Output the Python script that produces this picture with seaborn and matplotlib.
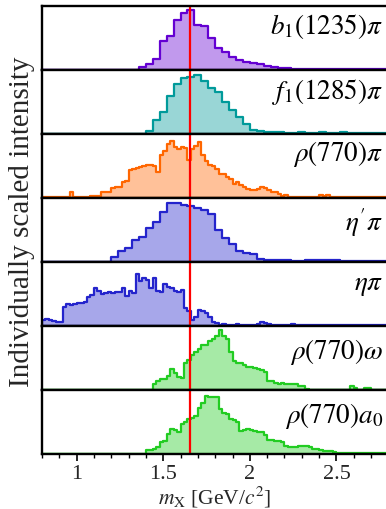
import numpy as np
import pandas as pd
import matplotlib
matplotlib.use("Agg")
import matplotlib.pyplot as plt
import seaborn as sns
from matplotlib.ticker import MultipleLocator, FixedLocator

sns.set_theme(style="ticks")
plt.rcParams["font.family"] = ["Liberation Serif", "DejaVu Serif"]
plt.rcParams["mathtext.fontset"] = "stix"

# ---------------- data ----------------
panel_labels = [r"$b_1(1235)\pi$", r"$f_1(1285)\pi$", r"$\rho(770)\pi$",
                r"$\eta'\pi$", r"$\eta\pi$", r"$\rho(770)\omega$", r"$\rho(770)a_0$"]
line_colors = ["#6400d2", "#009a9a", "#ff6600", "#2424cc", "#2424cc", "#22cc22", "#22cc22"]

x_start = 0.8
bin_widths = [0.04, 0.04, 0.02, 0.04, 0.02, 0.02, 0.02]

b1_pi = [0]*14 + [0.04, 0.1, 0.18, 0.45, 0.53, 0.78, 0.89, 0.94, 0.7, 0.68,
                  0.5, 0.34, 0.28, 0.2, 0.15, 0.13, 0.11, 0.09, 0.07, 0.04,
                  0.035, 0.025, 0.02, 0.02, 0.02, 0.015,
                  0.02, 0.015, 0.02, 0.015, 0.015, 0.02, 0.015, 0.015, 0.015, 0.015]
f1_pi = [0]*15 + [0.05, 0.22, 0.34, 0.6, 0.78, 0.88, 0.89, 0.92, 0.83, 0.72,
                  0.65, 0.5, 0.38, 0.27, 0.16, 0.06, 0.05, 0.04, 0.03, 0.03,
                  0.02, 0.02, 0.025, 0.02, 0.02, 0.025,
                  0.02, 0.02, 0.025, 0.02, 0.02, 0.015, 0.02, 0.015, 0.015]
rho_pi = ([0.01]*8 + [0.09] + [0.01]*5 + [0.03]*3 + [0.09, 0.09, 0.1] +
          [0.16, 0.17, 0.18, 0.25, 0.26, 0.44, 0.45, 0.47, 0.48, 0.5, 0.52, 0.52, 0.5] +
          [0.41, 0.68, 0.74, 0.85, 0.89, 0.8, 0.76, 0.8, 0.79, 0.6,
           0.76, 0.82, 0.88, 0.68, 0.58, 0.52, 0.5, 0.45, 0.38, 0.37,
           0.33, 0.3, 0.22, 0.25, 0.2, 0.17, 0.14, 0.13, 0.12, 0.15,
           0.17, 0.16, 0.13, 0.1, 0.1, 0.06, 0.04, 0.05, 0.02] +
          [0.01]*8 + [0.05, 0.04, 0.05] + [0.01]*17)
etap_pi = [0]*10 + [0.08, 0.17, 0.22, 0.35, 0.39, 0.53, 0.62, 0.78, 0.92, 0.93,
                    0.9, 0.87, 0.85, 0.82, 0.75, 0.5, 0.38, 0.28, 0.18, 0.15,
                    0.12, 0.05, 0.035, 0.035, 0.03, 0.03, 0.025, 0.025, 0.04, 0.04,
                    0.035, 0.035, 0.03, 0.02, 0.025, 0.02, 0.02, 0.025, 0.02, 0.02]
eta_pi = ([0.1, 0.11, 0.09, 0.08, 0.07, 0.06] +
          [0.3, 0.34, 0.33, 0.35, 0.36, 0.37, 0.38] +
          [0.45, 0.48, 0.6, 0.55, 0.5, 0.52, 0.53, 0.52, 0.54, 0.53, 0.6, 0.47, 0.55, 0.52] +
          [0.82, 0.7, 0.76, 0.72, 0.6, 0.76, 0.55, 0.53, 0.66, 0.62, 0.6, 0.55, 0.54, 0.56] +
          [0.29, 0.24, 0.1, 0.15, 0.26, 0.24, 0.2, 0.14, 0.06, 0.05] +
          [0.025, 0.03, 0.025, 0.02, 0.025, 0.03, 0.025, 0.02, 0.025, 0.02, 0.025, 0.03] +
          [0.07, 0.05] +
          [0.03, 0.02, 0.025, 0.02, 0.02, 0.025, 0.02, 0.03, 0.02, 0.02, 0.025, 0.02,
           0.02, 0.02, 0.025, 0.02, 0.02, 0.02, 0.025, 0.02, 0.02, 0.02, 0.02, 0.025,
           0.02, 0.02, 0.02, 0.02, 0.02, 0.025, 0.02, 0.02, 0.02, 0.02, 0.02])
rho_omega = ([0]*32 + [0.1] +
             [0.15, 0.17, 0.17, 0.23, 0.33, 0.27, 0.2, 0.19] +
             [0.42, 0.48, 0.55, 0.6, 0.65, 0.7, 0.71, 0.77, 0.8, 0.84, 0.94, 0.84, 0.8] +
             [0.6, 0.45, 0.42, 0.42, 0.4, 0.36, 0.36, 0.34, 0.33, 0.31, 0.28] +
             [0.15, 0.14, 0.12, 0.1, 0.11, 0.1, 0.1, 0.1, 0.09, 0.07, 0.07, 0.02] +
             [0.01]*12 + [0.07, 0.03, 0.01, 0.01, 0.04, 0.04] + [0.01]*5)
rho_a0 = ([0]*30 +
          [0.06, 0.06, 0.08, 0.11, 0.19, 0.2, 0.32, 0.4, 0.38, 0.35] +
          [0.47, 0.5, 0.55, 0.57, 0.6, 0.72, 0.8, 0.91, 0.9, 0.9] +
          [0.89, 0.71, 0.65, 0.63, 0.55, 0.53, 0.5, 0.36, 0.38, 0.4] +
          [0.38, 0.36, 0.35, 0.35, 0.3, 0.22, 0.22, 0.21, 0.2, 0.19] +
          [0.13, 0.11, 0.11, 0.12, 0.13, 0.13, 0.13, 0.12, 0.09, 0.09] +
          [0.07, 0.05, 0.05, 0.05, 0.04, 0.025, 0.025, 0.025, 0.025, 0.025] +
          [0.025] + [0.015]*9)

series = [b1_pi, f1_pi, rho_pi, etap_pi, eta_pi, rho_omega, rho_a0]
label_y = [0.68, 0.65, 0.69, 0.62, 0.63, 0.6, 0.6]
ref_mass = 1.655
major_ticks = [1.0, 1.5, 2.0, 2.5]
major_labels = ["1", "1.5", "2", "2.5"]

# ---------------- figure ----------------
W, H = 386, 509
fig, axes = plt.subplots(7, 1, figsize=(W / 100, H / 100), dpi=100, sharex=True)
fig.subplots_adjust(left=42 / W, right=388.4 / W, top=1 - 6 / H, bottom=1 - 454.3 / H, hspace=0)

for i, (ax, vals, bw, col, lab) in enumerate(zip(axes, series, bin_widths, line_colors, panel_labels)):
    vals = [float(v) for v in vals]
    n = len(vals)
    edges = [round(x_start + bw * k, 4) for k in range(n + 1)]
    df = pd.DataFrame({"m": [0.5 * (edges[k] + edges[k + 1]) for k in range(n)],
                       "w": vals})
    sns.histplot(data=df, x="m", weights="w", bins=edges, element="step", fill=True,
                 color=col, alpha=0.4, linewidth=1.6, ax=ax)
    ax.axvline(ref_mass, color="red", lw=1.6, zorder=5)
    ax.set_xlim(0.8, 2.8)
    ax.set_ylim(0, 1.0)
    ax.set_yticks([])
    ax.set_ylabel("")
    ax.set_xlabel("")
    for s in ax.spines.values():
        s.set_linewidth(1.7)
        s.set_color("black")
        s.set_zorder(6)
    ax.xaxis.set_major_locator(FixedLocator(major_ticks))
    ax.xaxis.set_minor_locator(MultipleLocator(0.1))
    ax.tick_params(axis="x", which="major", direction="out", length=5, width=1.2,
                   color="black", labelsize=16, pad=3)
    ax.tick_params(axis="x", which="minor", direction="out", length=3, width=1.0, color="black")
    ax.text(0.985, label_y[i], lab, transform=ax.transAxes, ha="right", va="center",
            fontsize=19.5, color="black")
    if i < 6:
        ax.tick_params(axis="x", labelbottom=False)

axes[-1].set_xticklabels(major_labels)
axes[-1].set_xlabel(r"$m_{\mathrm{X}}$ [GeV/$c^2$]", fontsize=15.5, labelpad=0.5)
fig.text(22 / W, 1 - 222 / H, "Individually scaled intensity", rotation=90,
         ha="center", va="center", fontsize=21)

fig.savefig("out.png", dpi=100)
